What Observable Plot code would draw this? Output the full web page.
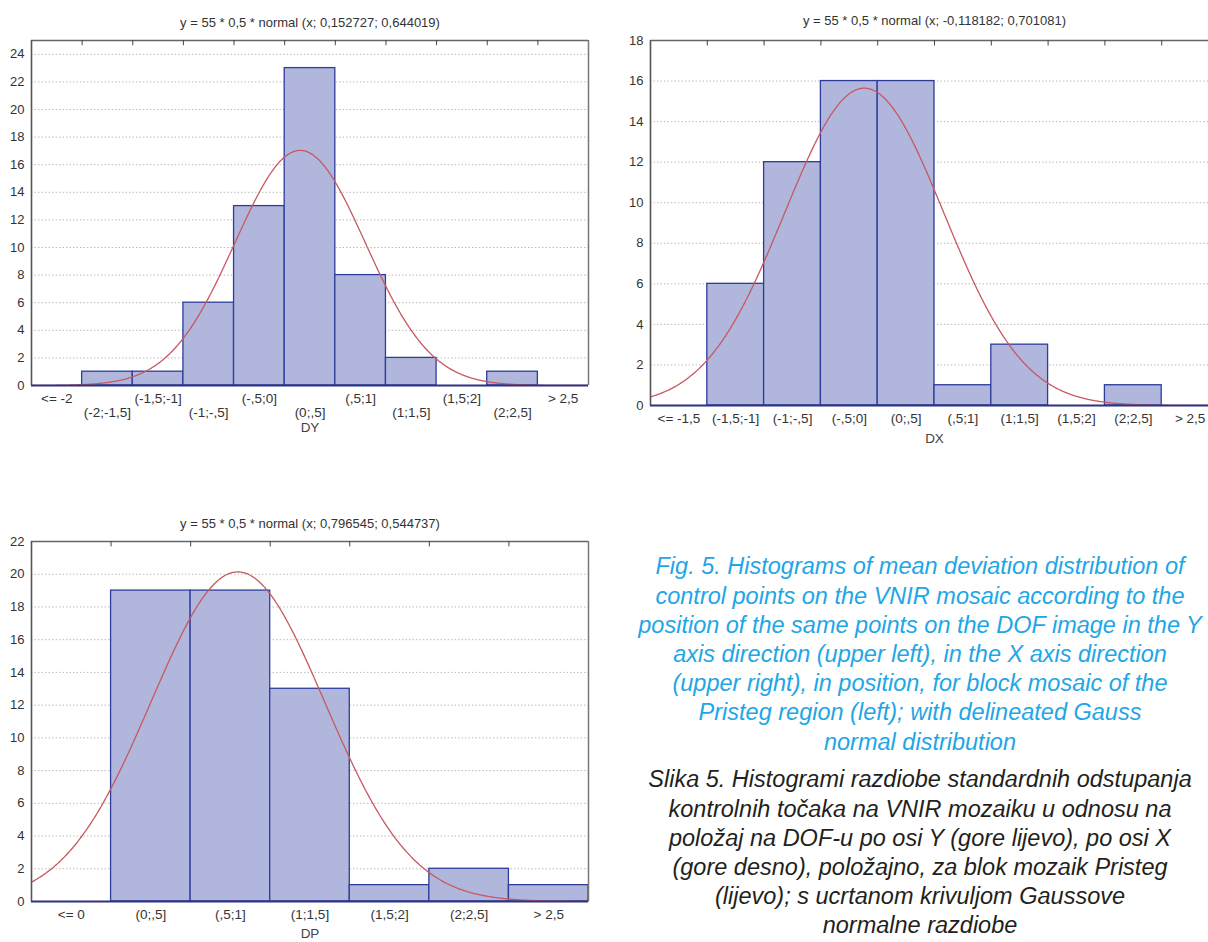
<!DOCTYPE html>
<html><head><meta charset="utf-8">
<script src="https://cdn.jsdelivr.net/npm/d3@7"></script>
<script src="https://cdn.jsdelivr.net/npm/@observablehq/plot@0.6"></script>
<style>
body{margin:0;background:#fff;overflow:hidden}
#root{position:relative;width:1208px;height:942px;overflow:hidden;background:#fff}
.chart{position:absolute}
.cap{position:absolute;left:520px;width:800px;text-align:center;font-family:"Liberation Sans",Arial,sans-serif;font-style:italic;font-size:23.5px;line-height:29.2px;white-space:nowrap}
.cap div{white-space:nowrap}
</style></head><body><div id="root"></div>
<script>
// ---- DY (upper left) ----
const dyLabels = ["<= -2","(-2;-1,5]","(-1,5;-1]","(-1;-,5]","(-,5;0]","(0;,5]","(,5;1]","(1;1,5]","(1,5;2]","(2;2,5]","> 2,5"];
const dyCounts = [0,1,1,6,13,23,8,2,0,1,0];
const dyEdges = [-2.5,-2,-1.5,-1,-0.5,0,0.5,1,1.5,2,2.5,3];
const dyFit = [55, 0.5, 0.152727, 0.644019];
const dyYTicks = [0,2,4,6,8,10,12,14,16,18,20,22,24];
const dyTitle = "y = 55 * 0,5 * normal (x; 0,152727; 0,644019)";

// ---- DX (upper right) ----
const dxLabels = ["<= -1,5","(-1,5;-1]","(-1;-,5]","(-,5;0]","(0;,5]","(,5;1]","(1;1,5]","(1,5;2]","(2;2,5]","> 2,5"];
const dxCounts = [0,6,12,16,16,1,3,0,1,0];
const dxEdges = [-2,-1.5,-1,-0.5,0,0.5,1,1.5,2,2.5,3];
const dxFit = [55, 0.5, -0.118182, 0.701081];
const dxYTicks = [0,2,4,6,8,10,12,14,16,18];
const dxTitle = "y = 55 * 0,5 * normal (x; -0,118182; 0,701081)";

// ---- DP (lower left) ----
const dpLabels = ["<= 0","(0;,5]","(,5;1]","(1;1,5]","(1,5;2]","(2;2,5]","> 2,5"];
const dpCounts = [0,19,19,13,1,2,1];
const dpEdges = [-0.5,0,0.5,1,1.5,2,2.5,3];
const dpFit = [55, 0.5, 0.796545, 0.544737];
const dpYTicks = [0,2,4,6,8,10,12,14,16,18,20,22];
const dpTitle = "y = 55 * 0,5 * normal (x; 0,796545; 0,544737)";

const captionEn = ["Fig. 5. Histograms of mean deviation distribution of","control points on the VNIR mosaic according to the","position of the same points on the DOF image in the Y","axis direction (upper left), in the X axis direction","(upper right), in position, for block mosaic of the","Pristeg region (left); with delineated Gauss","normal distribution"];
const captionHr = ["Slika 5. Histogrami razdiobe standardnih odstupanja","kontrolnih točaka na VNIR mozaiku u odnosu na","položaj na DOF-u po osi Y (gore lijevo), po osi X","(gore desno), položajno, za blok mozaik Pristeg","(lijevo); s ucrtanom krivuljom Gaussove","normalne razdiobe"];

const FONT = '"Liberation Sans",Arial,sans-serif';

function hist(o) {
  const bins = o.labels.map((l, i) => ({label: l, count: o.counts[i], x1: o.edges[i], x2: o.edges[i + 1], c: (o.edges[i] + o.edges[i + 1]) / 2}));
  const labelOf = new Map(bins.map(b => [b.c, b.label]));
  const [n, w, mu, sd] = o.fit;
  const xd = [o.edges[0], o.edges[o.edges.length - 1]];
  const curve = d3.range(0, 601).map(k => {
    const x = xd[0] + (xd[1] - xd[0]) * k / 600;
    const z = (x - mu) / sd;
    return {x, y: n * w * Math.exp(-z * z / 2) / (sd * Math.sqrt(2 * Math.PI))};
  });
  const yMax = o.yMax;
  const centers = bins.map(b => b.c);
  const marks = [
    Plot.gridY(o.yTicks.filter(t => t > 0 && t < yMax), {stroke: "#bdbdbd", strokeOpacity: 1, strokeDasharray: "1.5,2"}),
    Plot.rectY(bins, {x1: "x1", x2: "x2", y: "count", fill: "#b0b6dc", stroke: "#2f3c9c", strokeWidth: 1.3}),
    Plot.line(curve, {x: "x", y: "y", stroke: "#c65a60", strokeWidth: 1.3, clip: true}),
    Plot.ruleY([yMax], {stroke: "#666", strokeWidth: 1.5}),
    Plot.ruleX([xd[0]], {stroke: "#555", strokeWidth: 1.6}),
    Plot.ruleX([xd[1]], {stroke: "#777", strokeWidth: 1.5}),
    Plot.ruleX(o.edges.filter(e => e > xd[0] && e < xd[1]), {y1: yMax, y2: yMax * 0.985, stroke: "#444", strokeWidth: 1}),
    Plot.ruleY([0], {stroke: "#2b3384", strokeWidth: 2}),
    Plot.axisY({ticks: o.yTicks, tickSize: 0, tickPadding: 7, label: null, fill: "#333", fontSize: 13}),
    Plot.text([o.title], {frameAnchor: "top", dy: o.titleDy, fill: "#333", fontSize: 13}),
    Plot.text([o.axisLabel], {frameAnchor: "bottom", dy: o.axisLabelDy, fill: "#444", fontSize: 13.5})
  ];
  if (o.stagger) {
    marks.push(Plot.axisX({ticks: centers.filter((c, i) => i % 2 === 0), tickFormat: d => labelOf.get(d), tickSize: 0, tickPadding: 8, label: null, fill: "#333", fontSize: 13.5}));
    marks.push(Plot.axisX({ticks: centers.filter((c, i) => i % 2 === 1), tickFormat: d => labelOf.get(d), tickSize: 0, tickPadding: 22, label: null, fill: "#333", fontSize: 13.5}));
  } else {
    marks.push(Plot.axisX({ticks: centers, tickFormat: d => labelOf.get(d), tickSize: 0, tickPadding: 8, label: null, fill: "#333", fontSize: 13.5}));
  }
  const svg = Plot.plot({
    width: o.width, height: o.height,
    marginLeft: o.ml, marginRight: o.mr, marginTop: o.mt, marginBottom: o.mb,
    x: {type: "linear", domain: xd},
    y: {domain: [0, yMax]},
    style: {fontFamily: FONT, fontSize: "13px", color: "#333", background: "transparent", overflow: "visible"},
    marks
  });
  svg.classList.add("chart");
  svg.style.left = o.left + "px";
  svg.style.top = o.top + "px";
  return svg;
}

const root = document.getElementById("root");
root.appendChild(hist({labels: dyLabels, counts: dyCounts, edges: dyEdges, fit: dyFit, yTicks: dyYTicks, yMax: 25,
  title: dyTitle, axisLabel: "DY", stagger: true,
  width: 600, height: 440, ml: 31, mr: 12, mt: 40, mb: 55, left: 0, top: 0, titleDy: -23, axisLabelDy: 46}));
root.appendChild(hist({labels: dxLabels, counts: dxCounts, edges: dxEdges, fit: dxFit, yTicks: dxYTicks, yMax: 18,
  title: dxTitle, axisLabel: "DX", stagger: false,
  width: 620, height: 460, ml: 50, mr: 2, mt: 40, mb: 55, left: 600, top: 0, titleDy: -25, axisLabelDy: 37}));
root.appendChild(hist({labels: dpLabels, counts: dpCounts, edges: dpEdges, fit: dpFit, yTicks: dpYTicks, yMax: 22,
  title: dpTitle, axisLabel: "DP", stagger: false,
  width: 600, height: 472, ml: 31, mr: 12, mt: 71, mb: 41, left: 0, top: 470, titleDy: -23, axisLabelDy: 36}));

const en = document.createElement("div");
en.className = "cap";
en.style.top = (567 - 14.6) + "px";
en.style.color = "#1ea6e6";
captionEn.forEach(t => { const d = document.createElement("div"); d.textContent = t; en.appendChild(d); });
root.appendChild(en);
const hr = document.createElement("div");
hr.className = "cap";
hr.style.top = (780 - 14.6) + "px";
hr.style.color = "#231f20";
captionHr.forEach(t => { const d = document.createElement("div"); d.textContent = t; hr.appendChild(d); });
root.appendChild(hr);
</script>
</body></html>
